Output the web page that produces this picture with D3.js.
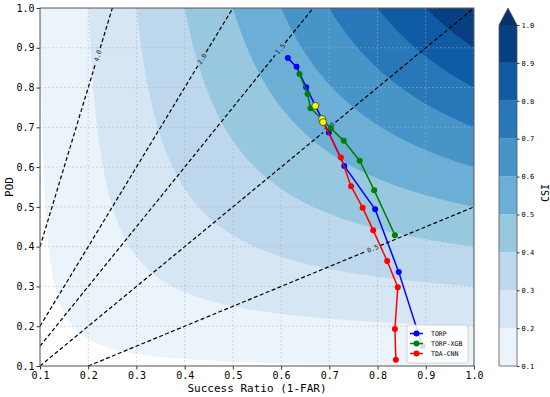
<!doctype html>
<html>
<head>
<meta charset="utf-8">
<script src="https://cdn.jsdelivr.net/npm/d3@7"></script>
<style>
  body { margin: 0; background: #fff; }
  svg text { font-family: "DejaVu Sans Mono", monospace; fill: #000; }
</style>
</head>
<body>
<svg id="chart" width="550" height="397"></svg>
<script>
  // performance diagram: success ratio vs POD, CSI filled contours, bias lines
  var csiLevels = [0.1, 0.2, 0.3, 0.4, 0.5, 0.6, 0.7, 0.8, 0.9, 1.0];
  var biasValues = [0.5, 1.0, 1.5, 2.0, 4.0];
  var biasLabelX = [0.79, 0.70, 0.598, 0.436, 0.22];
  var ticks = [0.1, 0.2, 0.3, 0.4, 0.5, 0.6, 0.7, 0.8, 0.9, 1.0];

  var seriesNames = ['TORP', 'TORP-XGB', 'TDA-CNN'];
  var seriesColors = ['#0000ff', '#008000', '#ff0000'];
  var torpSR  = [0.614, 0.632, 0.652, 0.671, 0.699, 0.731, 0.795, 0.844, 0.893];
  var torpPOD = [0.874, 0.852, 0.801, 0.754, 0.687, 0.603, 0.494, 0.336, 0.150];
  var xgbSR   = [0.638, 0.655, 0.661, 0.685, 0.703, 0.730, 0.763, 0.793, 0.836];
  var xgbPOD  = [0.834, 0.784, 0.748, 0.721, 0.698, 0.666, 0.616, 0.542, 0.429];
  var cnnSR   = [0.687, 0.724, 0.745, 0.769, 0.791, 0.820, 0.842, 0.836, 0.838];
  var cnnPOD  = [0.713, 0.624, 0.552, 0.498, 0.441, 0.364, 0.298, 0.193, 0.116];
  // index of highlighted (yellow) point in each series
  var highlightIdx = [3, 3, 0];

  var blues = d3.scaleLinear()
    .domain(d3.range(9).map(function (i) { return i / 8; }))
    .range(['#f7fbff', '#deebf7', '#c6dbef', '#9ecae1', '#6baed6', '#4292c6', '#2171b5', '#08519c', '#08306b']);

  var L = 40, R = 474, T = 8, B = 366;
  var svg = d3.select('#chart');
  var x = d3.scaleLinear().domain([0.1, 1.0]).range([L, R]);
  var y = d3.scaleLinear().domain([0.1, 1.0]).range([B, T]);

  function csi(sr, pod) { return 1 / (1 / sr + 1 / pod - 1); }

  svg.append('clipPath').attr('id', 'clip')
    .append('rect').attr('x', L).attr('y', T).attr('width', R - L).attr('height', B - T);

  var plot = svg.append('g').attr('clip-path', 'url(#clip)');

  // CSI grid, one cell per pixel
  var nx = R - L, ny = B - T;
  var values = new Float64Array(nx * ny);
  for (var j = 0; j < ny; j++) {
    for (var i = 0; i < nx; i++) {
      values[j * nx + i] = csi(x.invert(L + i + 0.5), y.invert(T + j + 0.5));
    }
  }
  var contours = d3.contours().size([nx, ny]).thresholds(csiLevels)(values);
  var path = d3.geoPath(d3.geoTransform({
    point: function (px, py) { this.stream.point(L + px, T + py); }
  }));
  function bandColor(k) {
    if (k >= csiLevels.length - 1) return blues(1);
    return blues((csiLevels[k] + 0.05 - 0.1) / 0.9);
  }
  plot.selectAll('path.band')
    .data(contours)
    .enter().append('path')
    .attr('class', 'band')
    .attr('d', path)
    .attr('fill', function (d, k) { return bandColor(k); });

  // grid
  var grid = plot.append('g');
  ticks.forEach(function (t) {
    grid.append('line').attr('x1', x(t)).attr('x2', x(t)).attr('y1', T).attr('y2', B);
    grid.append('line').attr('x1', L).attr('x2', R).attr('y1', y(t)).attr('y2', y(t));
  });
  grid.selectAll('line')
    .attr('stroke', '#b0b0b0').attr('stroke-opacity', 0.6)
    .attr('stroke-width', 0.8).attr('stroke-dasharray', '2,2');

  // bias lines with inline labels
  biasValues.forEach(function (b, k) {
    var p0 = b >= 1 ? [0.1, 0.1 * b] : [0.1 / b, 0.1];
    var p1 = b >= 1 ? [1 / b, 1.0] : [1.0, b];
    var a = [x(p0[0]), y(p0[1])], c = [x(p1[0]), y(p1[1])];
    var lx = biasLabelX[k], m = [x(lx), y(lx * b)];
    var len = Math.hypot(c[0] - a[0], c[1] - a[1]);
    var ux = (c[0] - a[0]) / len, uy = (c[1] - a[1]) / len;
    var gap = 8;
    var segs = [[a, [m[0] - ux * gap, m[1] - uy * gap]], [[m[0] + ux * gap, m[1] + uy * gap], c]];
    segs.forEach(function (s) {
      plot.append('line')
        .attr('x1', s[0][0]).attr('y1', s[0][1]).attr('x2', s[1][0]).attr('y2', s[1][1])
        .attr('stroke', '#000').attr('stroke-width', 1.2).attr('stroke-dasharray', '4,2.4');
    });
    var ang = Math.atan2(uy, ux) * 180 / Math.PI;
    plot.append('text')
      .attr('transform', 'translate(' + m[0] + ',' + m[1] + ') rotate(' + ang + ')')
      .attr('text-anchor', 'middle').attr('dy', '0.35em')
      .style('font-size', '6.5px').style('fill', '#222')
      .text(d3.format('.1f')(b));
  });

  // series
  var series = [
    { sr: torpSR, pod: torpPOD },
    { sr: xgbSR, pod: xgbPOD },
    { sr: cnnSR, pod: cnnPOD }
  ];
  var line = d3.line().x(function (d) { return x(d[0]); }).y(function (d) { return y(d[1]); });
  series.forEach(function (s, k) {
    var pts = s.sr.map(function (v, i) { return [v, s.pod[i]]; });
    var g = svg.append('g');
    g.append('path').attr('d', line(pts)).attr('fill', 'none')
      .attr('stroke', seriesColors[k]).attr('stroke-width', 1.5);
    g.selectAll('circle').data(pts).enter().append('circle')
      .attr('cx', function (d) { return x(d[0]); })
      .attr('cy', function (d) { return y(d[1]); })
      .attr('r', 3).attr('fill', seriesColors[k]);
  });
  series.forEach(function (s, k) {
    var i = highlightIdx[k];
    svg.append('circle')
      .attr('cx', x(s.sr[i])).attr('cy', y(s.pod[i])).attr('r', 3.5)
      .attr('fill', '#ffff00').attr('stroke', '#333').attr('stroke-width', 0.8);
  });

  // legend
  var lg = svg.append('g');
  lg.append('rect').attr('x', 407).attr('y', 325).attr('width', 61).attr('height', 38)
    .attr('rx', 2).attr('fill', '#fff').attr('fill-opacity', 0.85)
    .attr('stroke', '#ccc').attr('stroke-width', 0.8);
  seriesNames.forEach(function (name, k) {
    var ly = 333.5 + k * 10;
    lg.append('line').attr('x1', 410).attr('x2', 423).attr('y1', ly).attr('y2', ly)
      .attr('stroke', seriesColors[k]).attr('stroke-width', 1.5);
    lg.append('circle').attr('cx', 416.5).attr('cy', ly).attr('r', 3).attr('fill', seriesColors[k]);
    lg.append('text').attr('x', 431).attr('y', ly).attr('dy', '0.35em')
      .style('font-size', '6.5px').text(name);
  });

  // axes
  var xAxis = svg.append('g').attr('transform', 'translate(0,' + B + ')')
    .call(d3.axisBottom(x).tickValues(ticks).tickFormat(d3.format('.1f')).tickSize(3.5).tickPadding(2));
  var yAxis = svg.append('g').attr('transform', 'translate(' + L + ',0)')
    .call(d3.axisLeft(y).tickValues(ticks).tickFormat(d3.format('.1f')).tickSize(3.5).tickPadding(2));
  [xAxis, yAxis].forEach(function (ax) {
    ax.select('.domain').remove();
    ax.selectAll('line').attr('stroke', '#333');
    ax.selectAll('text').style('font-size', '10px').style('font-family', '"DejaVu Sans Mono", monospace');
  });
  svg.append('rect').attr('x', L).attr('y', T).attr('width', R - L).attr('height', B - T)
    .attr('fill', 'none').attr('stroke', '#555').attr('stroke-width', 1);

  svg.append('text').attr('x', (L + R) / 2).attr('y', 392).attr('text-anchor', 'middle')
    .style('font-size', '11px').text('Success Ratio (1-FAR)');
  svg.append('text').attr('transform', 'translate(13,' + ((T + B) / 2) + ') rotate(-90)')
    .attr('text-anchor', 'middle').style('font-size', '11px').text('POD');

  // colorbar
  var cbL = 499, cbW = 18;
  var cb = d3.scaleLinear().domain([0.1, 1.0]).range([B, 25]);
  var cbg = svg.append('g');
  for (var k = 0; k < csiLevels.length - 1; k++) {
    cbg.append('rect').attr('x', cbL).attr('width', cbW)
      .attr('y', cb(csiLevels[k + 1])).attr('height', cb(csiLevels[k]) - cb(csiLevels[k + 1]))
      .attr('fill', bandColor(k));
  }
  var tri = [[cbL, cb(1.0)], [cbL + cbW / 2, 8], [cbL + cbW, cb(1.0)]];
  cbg.append('path').attr('d', 'M' + tri.join('L') + 'Z').attr('fill', blues(1));
  cbg.append('path')
    .attr('d', 'M' + cbL + ',' + B + 'L' + cbL + ',' + cb(1.0) + 'L' + (cbL + cbW / 2) + ',8L' +
      (cbL + cbW) + ',' + cb(1.0) + 'L' + (cbL + cbW) + ',' + B + 'Z')
    .attr('fill', 'none').attr('stroke', '#555').attr('stroke-width', 0.8);
  var cbAxis = svg.append('g').attr('transform', 'translate(' + (cbL + cbW) + ',0)')
    .call(d3.axisRight(cb).tickValues(ticks).tickFormat(d3.format('.1f')).tickSize(2.5).tickPadding(2));
  cbAxis.select('.domain').remove();
  cbAxis.selectAll('line').attr('stroke', '#333');
  cbAxis.selectAll('text').style('font-size', '7px').style('font-family', '"DejaVu Sans Mono", monospace');
  svg.append('text').attr('transform', 'translate(549,193) rotate(-90)')
    .attr('text-anchor', 'middle').style('font-size', '10px').text('CSI');
</script>
</body>
</html>
